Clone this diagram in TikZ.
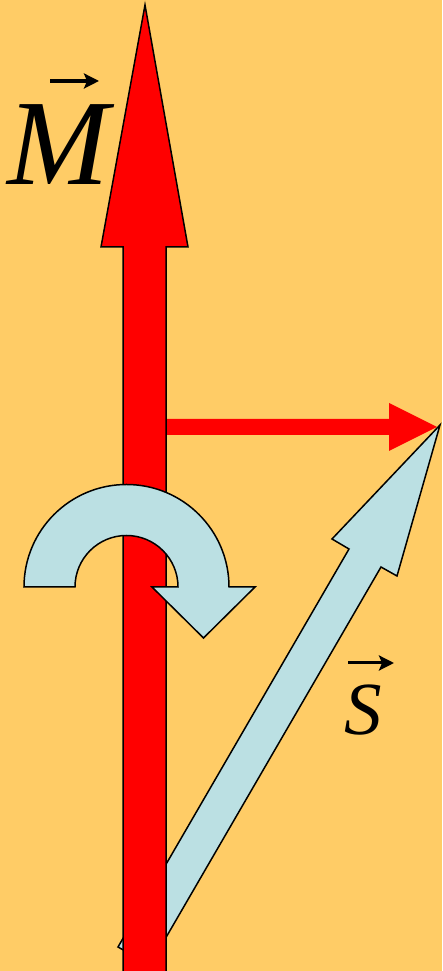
\documentclass[tikz,border=0pt]{standalone}
\usepackage{fontspec}
\setmainfont{Liberation Serif}
\usetikzlibrary{positioning,arrows.meta}
\definecolor{bgorange}{RGB}{255,204,102}
\definecolor{spinblue}{RGB}{187,224,227}

\begin{document}
\begin{tikzpicture}[
    x=1pt, y=1pt,
    redshape/.style={fill=red, draw=black, line width=1.5pt, line join=miter},
    redflat/.style={fill=red},
    blueshape/.style={fill=spinblue, draw=black, line width=1.5pt, line join=miter},
    veclabel/.style={inner sep=0pt, font=\itshape},
    vecarrow/.style={-{Stealth[length=15pt, width=15pt, inset=3pt]}, line width=3.5pt}
]
    % Background
    \fill[bgorange] (0,0) rectangle (442,971);
    \useasboundingbox (0,0) rectangle (442,971);
    \clip (0,0) rectangle (442,971);

    % Horizontal component
    \fill[redflat] (166,536) -- (389,536) -- (389,520) -- (437,544)
        -- (389,568) -- (389,552) -- (166,552) -- cycle;

    % Spin vector S
    \filldraw[blueshape] (118,24) -- (150,6) -- (381,404) -- (397,395)
        -- (440,546) -- (332,432) -- (349,422) -- cycle;

    % Magnetic moment M
    \filldraw[redshape] (123,-10) -- (123,724) -- (101,724) -- (145,966)
        -- (188,724) -- (166,724) -- (166,-10) -- cycle;

    % Rotation arrow
    \coordinate (rotc) at (126.5,384);
    \filldraw[blueshape] (24,384) arc[start angle=180, end angle=0, radius=102.5]
        -- (255,384) -- (203.5,333) -- (152,384) -- (178,384)
        arc[start angle=0, end angle=180, radius=51.5] -- cycle;

    % Labels
    \node[veclabel, anchor=base west, font=\itshape\fontsize{122}{122}\selectfont] (mlab) at (7,786) {M};
    \node[veclabel, anchor=base west, font=\itshape\fontsize{75}{75}\selectfont] (slab) at (344,236) {S};

    % Vector arrows over the labels
    \coordinate (marrA) at (50,890);
    \coordinate (marrB) at (99,890);
    \coordinate (sarrA) at (348,308);
    \coordinate (sarrB) at (394,308);
    \draw[vecarrow] (marrA) -- (marrB);
    \draw[vecarrow, line width=3pt] (sarrA) -- (sarrB);
\end{tikzpicture}
\end{document}
